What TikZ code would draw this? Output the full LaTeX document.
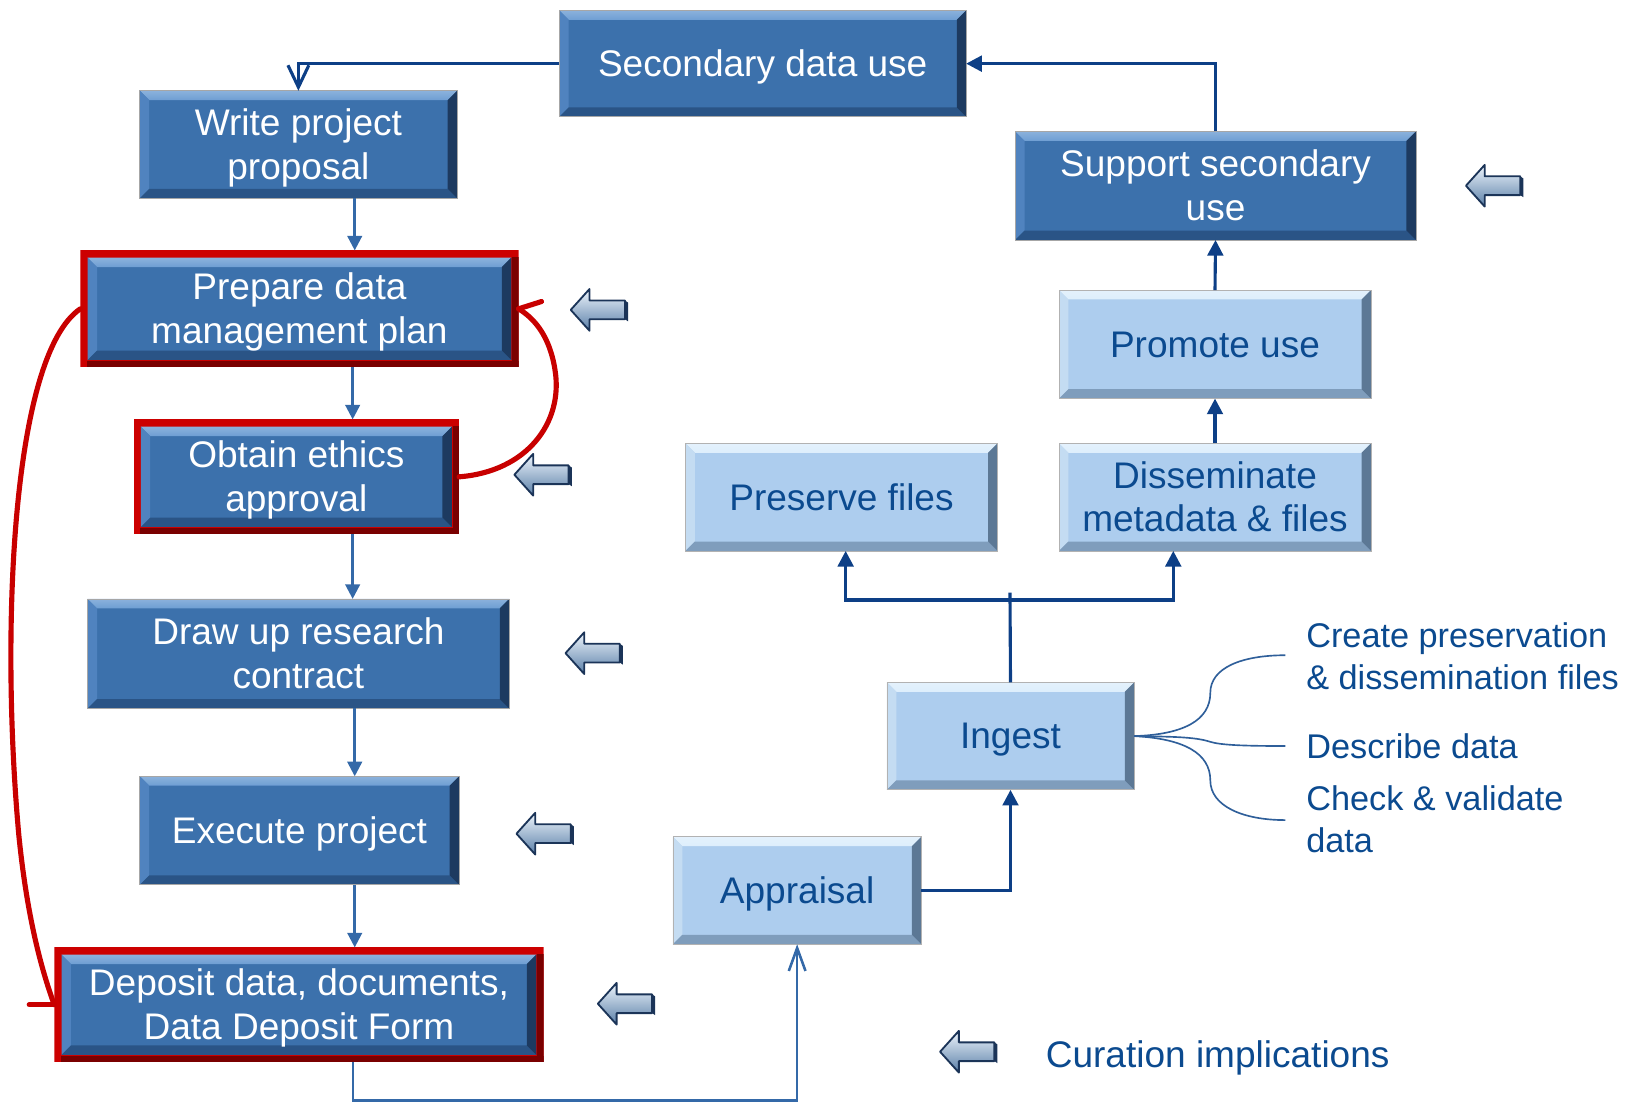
\documentclass[tikz,border=0pt]{standalone}
\usepackage{fontspec}
\setmainfont{Liberation Sans}
\usetikzlibrary{arrows.meta,calc}
\definecolor{boxblue}{HTML}{3C71AC}
\definecolor{dbtop}{HTML}{6E9ED3}
\definecolor{dbleft}{HTML}{5083BF}
\definecolor{dbbottom}{HTML}{2A5486}
\definecolor{dbright}{HTML}{1D3A60}
\definecolor{lightfill}{HTML}{ADCDEE}
\definecolor{lbtop}{HTML}{DDEEFC}
\definecolor{lbleft}{HTML}{C4DCF2}
\definecolor{lbbottom}{HTML}{7F9DBC}
\definecolor{lbright}{HTML}{5C7895}
\definecolor{frred}{HTML}{CC0000}
\definecolor{frdark}{HTML}{7A0000}
\definecolor{navyline}{HTML}{0D3F86}
\definecolor{midblue}{HTML}{3469A8}
\definecolor{labnavy}{HTML}{0B4A8F}
\definecolor{curvered}{HTML}{C80000}
\definecolor{brack}{HTML}{2F5F9A}
\definecolor{arrtop}{HTML}{EEF5FC}
\definecolor{arrmid}{HTML}{AFCBE6}
\definecolor{arrbot}{HTML}{5A7FA8}
\definecolor{arredge}{HTML}{1B3458}

\newcommand\ls{\rule[-0.212em]{0pt}{1.117em}}

\newcommand\bevelbox[6]{%
  \coordinate (bNW) at ($(path picture bounding box.north west)+(#1,#1)$);
  \coordinate (bNE) at ($(path picture bounding box.north east)+(-#1,#1)$);
  \coordinate (bSW) at ($(path picture bounding box.south west)+(#1,-#1)$);
  \coordinate (bSE) at ($(path picture bounding box.south east)+(-#1,-#1)$);
  \fill[#2] (bNW) rectangle (bSE);
  \shade[top color=#3!80!white, bottom color=#3] (bNW) -- (bNE) -- ($(bNE)+(-9,9)$) -- ($(bNW)+(9,9)$) -- cycle;
  \fill[#4] (bNW) -- ($(bNW)+(9,9)$) -- ($(bSW)+(9,-9)$) -- (bSW) -- cycle;
  \fill[#5] (bSW) -- ($(bSW)+(9,-9)$) -- ($(bSE)+(-9,-9)$) -- (bSE) -- cycle;
  \fill[#6] (bNE) -- (bSE) -- ($(bSE)+(-9,-9)$) -- ($(bNE)+(-9,9)$) -- cycle;
}

\newcommand\boxat[7]{%
  \node[#1, minimum width={(#5-#3)*0.02cm}, minimum height={(#6-#4)*0.02cm}] (#2) at ({(#3+#5)/2},{(#4+#6)/2}) {#7};
}

\tikzset{
  boxfont/.style={font=\fontsize{20.2}{23.8}\selectfont},
  basebox/.style={rectangle, inner sep=0pt, outer sep=0pt, align=center, boxfont},
  darkbox/.style={basebox, text=white, draw=gray!70, line width=0.4pt,
    path picture={\bevelbox{0}{boxblue}{dbtop}{dbleft}{dbbottom}{dbright}}},
  lightbox/.style={basebox, text=labnavy, draw=gray!60, line width=0.4pt,
    path picture={\bevelbox{0}{lightfill}{lbtop}{lbleft}{lbbottom}{lbright}}},
  redbox/.style={basebox, text=white,
    path picture={
      \fill[frred] (path picture bounding box.north west) rectangle (path picture bounding box.south east);
      \fill[frdark] ($(path picture bounding box.north east)+(-6,6)$) rectangle (path picture bounding box.south east);
      \fill[frdark] ($(path picture bounding box.south west)+(6,-6)$) rectangle (path picture bounding box.south east);
      \bevelbox{7}{boxblue}{dbtop}{dbleft}{dbbottom}{dbright}}},
  labeltext/.style={inner sep=0pt, outer sep=0pt, align=left, text=labnavy, font=\fontsize{18.7}{22.7}\selectfont},
  leftarrow/.style={draw=midblue, line width=1.4pt, -{Triangle[length=0.28cm,width=0.28cm]}},
  navyarrow/.style={draw=navyline, line width=1.7pt, -{Triangle[length=0.3cm,width=0.3cm]}},
  navyplain/.style={draw=navyline, line width=1.7pt},
  redcurve/.style={draw=curvered, line width=2.8pt, line cap=round},
  bracketline/.style={draw=brack, line width=0.9pt},
  cur/.pic={
    \shade[top color=arrtop, middle color=arrmid, bottom color=arrbot, draw=arredge, line width=1pt, line join=round]
      (0,0) -- (18,-20) -- (18,-9) -- (52,-9) -- (52,9) -- (18,9) -- (18,20) -- cycle;
    \fill[arredge] (52,-9) -- (55,-7) -- (55,11) -- (52,9) -- cycle;
  }
}

\begin{document}
\begin{tikzpicture}[x=0.02cm,y=-0.02cm]
\useasboundingbox (0,0) rectangle (1568,1061);

% boxes
\boxat{darkbox}{secondary}{536}{10}{926}{112}{\ls Secondary data use}
\boxat{darkbox}{write}{134}{87}{438}{190}{\ls Write project\\\ls proposal}
\boxat{redbox}{prepare}{77}{240}{497}{352}{\ls Prepare data\\\ls management plan}
\boxat{redbox}{ethics}{128}{402}{440}{512}{\ls Obtain ethics\\\ls approval}
\boxat{darkbox}{contract}{84}{574}{488}{679}{\ls Draw up research\\\ls contract}
\boxat{darkbox}{execute}{134}{744}{440}{848}{\ls Execute project}
\boxat{redbox}{deposit}{52}{908}{521}{1018}{\ls Deposit data, documents,\\\ls Data Deposit Form}
\boxat{darkbox}{support}{973}{126}{1357}{230}{\ls Support secondary\\\ls use}
\boxat{lightbox}{promote}{1015}{278}{1314}{382}{\ls Promote use}
\boxat{lightbox}{dissem}{1015}{425}{1314}{528}{\ls Disseminate\\\ls metadata \& files}
\boxat{lightbox}{preserve}{657}{425}{956}{528}{\ls Preserve files}
\boxat{lightbox}{ingest}{850}{654}{1087}{757}{\ls Ingest}
\boxat{lightbox}{appraisal}{645}{802}{883}{905}{\ls Appraisal}

% labels
\node[labeltext, anchor=north west] (lcreate) at (1252,597) {Create preservation\\\& dissemination files};
\node[labeltext, anchor=north west] (ldescribe) at (1252,703) {Describe data};
\node[labeltext, anchor=north west] (lcheck) at (1252,753) {Check \& validate\\data};
\node[inner sep=0pt, anchor=west, text=labnavy, boxfont] (lcur) at (1002,1011) {\ls Curation implications};

% left column arrows
\draw[leftarrow] ([xshift=1.08cm]write.south) -- ([xshift=1.08cm]write.south |- prepare.north);
\draw[leftarrow] ([xshift=1.02cm]prepare.south) -- ([xshift=1.02cm]prepare.south |- ethics.north);
\draw[leftarrow] ([xshift=1.08cm]ethics.south) -- ([xshift=1.08cm]ethics.south |- contract.north);
\draw[leftarrow] ([xshift=1.08cm]contract.south) -- ([xshift=1.08cm]contract.south |- execute.north);
\draw[leftarrow] ([xshift=1.06cm]execute.south) -- ([xshift=1.06cm]execute.south |- deposit.north);

% secondary -> write
\draw[navyplain, -{Straight Barb[length=0.42cm,width=0.4cm,line width=1.7pt]}] (secondary.west) -| (write.north);
% support -> secondary
\draw[navyarrow] (support.north) |- (secondary.east);
% promote -> support, dissem -> promote
\draw[navyarrow] (promote.north) -- (support.south);
\draw[navyarrow] (dissem.north) -- (promote.south);
% ingest hub
\coordinate (hub) at (968,575);
\draw[navyplain] (ingest.north) -- ($(hub)+(0,-7)$);
\draw[navyarrow] (hub) -| ([xshift=0.08cm]preserve.south);
\draw[navyarrow] (hub) -| ([xshift=-0.8cm]dissem.south);
% appraisal -> ingest
\draw[navyarrow] (appraisal.east) -| (ingest.south);
% deposit -> appraisal
\draw[draw=midblue, line width=1.4pt, -{Straight Barb[length=0.44cm,width=0.32cm,line width=1.4pt]}]
  ([xshift=1.04cm]deposit.south) -- ++(0,37) -| (appraisal.south);

% brackets from ingest
\coordinate (b1) at (1232,628);
\coordinate (b2) at (1232,715);
\coordinate (b3) at (1232,786);
\draw[bracketline] (ingest.east) .. controls (1135,704) and (1160,690) .. (1160,664) .. controls (1160,640) and (1190,628) .. (b1);
\draw[bracketline] (ingest.east) .. controls (1120,706) and (1145,706) .. (1160,711) .. controls (1170,714) and (1190,715) .. (b2);
\draw[bracketline] (ingest.east) .. controls (1135,708) and (1160,722) .. (1160,748) .. controls (1160,772) and (1190,786) .. (b3);

% red curves
\draw[redcurve] (prepare.west) .. controls (12,340) and (0,600) .. (18,800) .. controls (26,880) and (40,930) .. (deposit.west);
\draw[redcurve] (deposit.west) -- ++(-24,0);
\draw[redcurve] (ethics.east) .. controls (505,452) and (540,405) .. (532,355) .. controls (527,322) and (512,305) .. (prepare.east);
\draw[redcurve] (prepare.east) -- ++(22,-7);

% curation implication arrows
\pic at (1405,178) {cur};
\pic at (547,297) {cur};
\pic at (493,455) {cur};
\pic at (542,626) {cur};
\pic at (495,799) {cur};
\pic at (573,962) {cur};
\pic at (901,1008) {cur};
\end{tikzpicture}
\end{document}
